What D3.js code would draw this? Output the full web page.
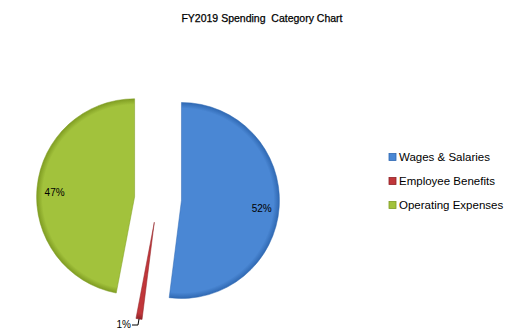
<!DOCTYPE html>
<html>
<head>
<meta charset="utf-8">
<script src="https://cdn.jsdelivr.net/npm/d3@7"></script>
<style>
  body { margin: 0; background: #fff; }
  text { font-family: "Liberation Sans", Arial, sans-serif; white-space: pre; }
</style>
</head>
<body>
<div id="chart"></div>
<script>
// chart data
const categories = ["Wages & Salaries", "Employee Benefits", "Operating Expenses"];
const values = [52, 1, 47];
const labels = ["52%", "1%", "47%"];
const colors = ["#4a87d4", "#c0363a", "#a2c23c"];
const darkColors = ["#2f68b2", "#8e2226", "#7f9c22"];

const width = 522, height = 335;
const center = {x: 158, y: 199};
const radius = 98;
const explode = 23.5;

const svg = d3.select("#chart").append("svg")
    .attr("width", width)
    .attr("height", height);

// gradients for a bit of the bevel look (around each slice's own centre)
const defs = svg.append("defs");
colors.forEach((c, i) => {
    const g = defs.append("radialGradient")
        .attr("id", "grad" + i)
        .attr("gradientUnits", "userSpaceOnUse")
        .attr("cx", 0).attr("cy", 0).attr("r", radius);
    g.append("stop").attr("offset", "0%").attr("stop-color", c);
    g.append("stop").attr("offset", "94%").attr("stop-color", c);
    g.append("stop").attr("offset", "100%").attr("stop-color", darkColors[i]);
});

// title
svg.append("text")
    .attr("x", 262)
    .attr("y", 22)
    .attr("text-anchor", "middle")
    .style("font-size", "10.5px")
    .style("fill", "#000")
    .style("stroke", "#000")
    .style("stroke-width", 0.25)
    .text("FY2019 Spending  Category Chart");

const pie = d3.pie().sort(null).value(d => d)(values);
const arc = d3.arc().innerRadius(0).outerRadius(radius);

const g = svg.append("g")
    .attr("transform", `translate(${center.x},${center.y})`);

const slices = g.selectAll("g.slice")
    .data(pie)
    .join("g")
    .attr("class", "slice")
    .attr("transform", d => {
        const a = (d.startAngle + d.endAngle) / 2;
        return `translate(${Math.sin(a) * explode},${-Math.cos(a) * explode})`;
    });

slices.append("path")
    .attr("d", arc)
    .attr("fill", (d, i) => `url(#grad${i})`)
    .attr("stroke", (d, i) => darkColors[i])
    .attr("stroke-width", 0.5);

// inside labels for the big slices
const labelArc = d3.arc().innerRadius(radius * 0.82).outerRadius(radius * 0.82);
slices.filter((d, i) => i !== 1)
    .append("text")
    .attr("transform", d => {
        const [x, y] = labelArc.centroid(d);
        return `translate(${x},${y + 3})`;
    })
    .attr("text-anchor", "middle")
    .attr("dy", "0.35em")
    .style("font-size", "10px")
    .style("fill", "#000")
    .text(d => labels[d.index]);

// outside label for the small slice with leader line
const small = pie[1];
const midA = (small.startAngle + small.endAngle) / 2;
const ox = Math.sin(midA) * radius, oy = -Math.cos(midA) * radius;
const sg = slices.filter((d, i) => i === 1);
sg.append("polyline")
    .attr("points", [[ox, oy], [ox - 1, oy + 6], [ox - 7, oy + 6]].map(p => p.join(",")).join(" "))
    .attr("fill", "none")
    .attr("stroke", "#000")
    .attr("stroke-width", 1);
sg.append("text")
    .attr("x", ox - 8)
    .attr("y", oy + 9)
    .attr("text-anchor", "end")
    .style("font-size", "10px")
    .style("fill", "#000")
    .text(labels[1]);

// legend
const legend = svg.append("g").attr("transform", "translate(389,157)");
const items = legend.selectAll("g")
    .data(categories)
    .join("g")
    .attr("transform", (d, i) => `translate(0,${i * 24})`);
items.append("rect")
    .attr("x", 0).attr("y", -3.5)
    .attr("width", 7).attr("height", 7)
    .attr("fill", (d, i) => colors[i])
    .attr("stroke", (d, i) => darkColors[i])
    .attr("stroke-width", 0.8);
items.append("text")
    .attr("x", 10)
    .attr("y", 0)
    .attr("dy", "0.36em")
    .style("font-size", "11.5px")
    .style("fill", "#000")
    .text(d => d);
</script>
</body>
</html>
